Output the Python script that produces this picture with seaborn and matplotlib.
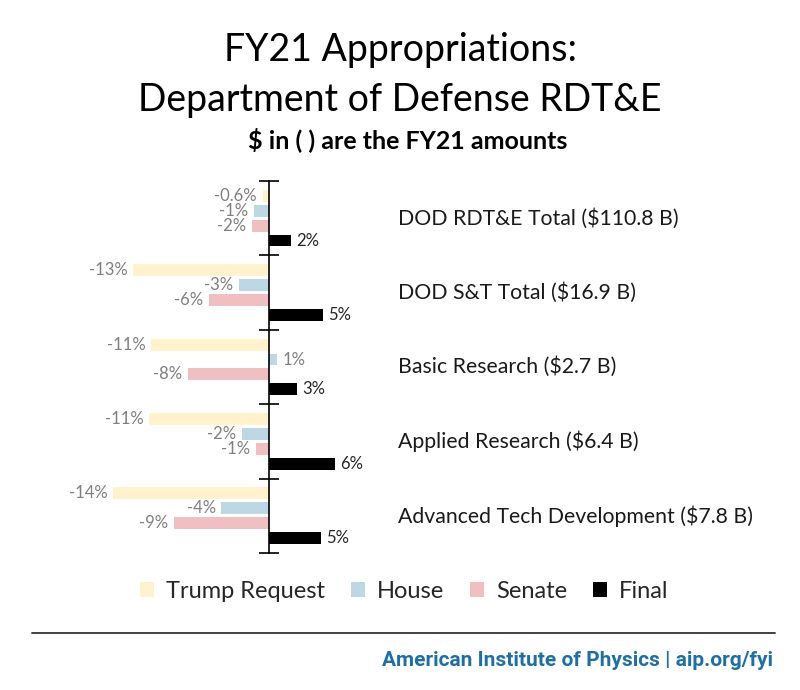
import matplotlib
matplotlib.use("Agg")
import matplotlib.pyplot as plt
import seaborn as sns
import pandas as pd
from matplotlib.lines import Line2D

# Data (bar lengths, labels as printed)
programs = ["DOD RDT&E Total ($110.8 B)", "DOD S&T Total ($16.9 B)",
            "Basic Research ($2.7 B)", "Applied Research ($6.4 B)",
            "Advanced Tech Development ($7.8 B)"]
series = ["Trump Request", "House", "Senate", "Final"]

trump = [-0.6, -12.6, -10.9, -11.1, -14.4]
house = [-1.4, -2.8, 0.7, -2.5, -4.4]
senate = [-1.6, -5.6, -7.5, -1.2, -8.8]
final = [2.0, 5.0, 2.6, 6.1, 4.8]

trump_lbl = ["-0.6%", "-13%", "-11%", "-11%", "-14%"]
house_lbl = ["-1%", "-3%", "1%", "-2%", "-4%"]
senate_lbl = ["-2%", "-6%", "-8%", "-1%", "-9%"]
final_lbl = ["2%", "5%", "3%", "6%", "5%"]

colors = ["#fff2cc", "#bdd7e4", "#f0bfc1", "#000000"]

df = pd.DataFrame({
    "program": programs * 4,
    "series": [s for s in series for _ in programs],
    "change": trump + house + senate + final,
})

sns.set_theme(style="white")
plt.rcParams["font.family"] = ["Lato", "DejaVu Sans"]

fig = plt.figure(figsize=(8, 6.9), dpi=100)
ax = fig.add_axes([0.1125, 0.1986, 0.375, 0.5391])

sns.barplot(data=df, x="change", y="program", hue="series", hue_order=series,
            order=programs, palette=colors, saturation=1, orient="h",
            width=0.8, gap=0.2, linewidth=0, ax=ax, legend=True)

# value labels
all_lbls = [trump_lbl, house_lbl, senate_lbl, final_lbl]
for i, cont in enumerate(ax.containers):
    ax.bar_label(cont, labels=all_lbls[i], padding=4, fontsize=12,
                 color="#262626" if i == 3 else "#7f7f7f")

ax.set_xlim(-16.57, 11.2)
ax.set_ylim(4.5, -0.5)
for s in ["top", "right", "bottom"]:
    ax.spines[s].set_visible(False)
ax.spines["left"].set_position(("data", 0))
ax.spines["left"].set_color("black")
ax.spines["left"].set_linewidth(1.2)
ax.set_yticks([-0.5, 0.5, 1.5, 2.5, 3.5, 4.5])
ax.set_yticklabels([])
ax.tick_params(axis="y", direction="inout", length=14, width=1.2, color="black", left=True)
ax.set_xticks([])
ax.set_xlabel("")
ax.set_ylabel("")

# category names to the right of the bars
for i, p in enumerate(programs):
    ax.text(1.027, i, p, transform=ax.get_yaxis_transform(), ha="left",
            va="center", fontsize=15.3, color="#1a1a1a")

# legend
handles, labels = ax.get_legend_handles_labels()
ax.get_legend().remove()
fig.legend(handles, labels, ncol=4, loc="center", bbox_to_anchor=(0.505, 0.143),
           frameon=False, fontsize=17, handlelength=0.6, handleheight=0.6,
           handletextpad=0.5, columnspacing=1.1)

# titles
fig.text(0.5, 1 - 50 / 690, "FY21 Appropriations:", ha="center", va="center",
         fontsize=27, color="black")
fig.text(0.5, 1 - 100 / 690, "Department of Defense RDT&E", ha="center",
         va="center", fontsize=27, color="black")
fig.text(0.509, 1 - 140 / 690, "$ in ( ) are the FY21 amounts", ha="center",
         va="center", fontsize=18, fontweight="bold", color="black")

# footer
fig.add_artist(Line2D([32 / 800, 775 / 800], [1 - 633 / 690] * 2,
                      color="#333333", linewidth=1.3))
fig.text(773 / 800, 1 - 660 / 690, "American Institute of Physics | aip.org/fyi",
         ha="right", va="center", fontsize=15, fontweight="bold", color="#1f6fa3",
         family=["Roboto", "DejaVu Sans"])

plt.savefig("out.png", dpi=100)
